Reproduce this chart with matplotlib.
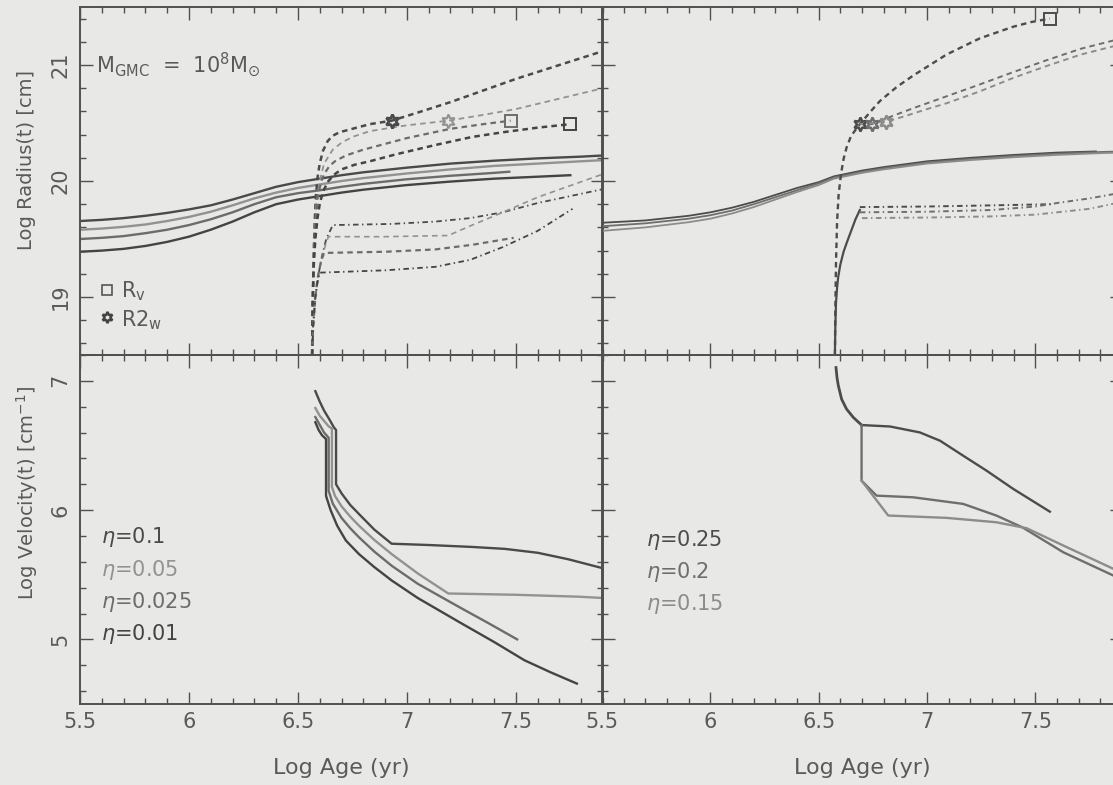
import matplotlib
matplotlib.use("Agg")
import matplotlib.pyplot as plt
from matplotlib.ticker import MultipleLocator

plt.rcParams['font.family'] = ['DejaVu Sans']
plt.rcParams['mathtext.fontset'] = 'dejavusans'
plt.rcParams['lines.scale_dashes'] = False

# ---------------- data ----------------
# Top-left: Log Radius, eta = 0.1, 0.05, 0.025, 0.01
tl_solid_x = [5.5, 5.6, 5.7, 5.8, 5.9, 6.0, 6.1, 6.2, 6.3, 6.4, 6.5, 6.6, 6.7, 6.8,
              6.9, 7.0, 7.2, 7.4, 7.6, 7.8, 7.9]
tl_solid_01 = [19.655, 19.665, 19.68, 19.70, 19.725, 19.755, 19.79, 19.84, 19.895, 19.95,
               19.99, 20.02, 20.05, 20.075, 20.095, 20.115, 20.15, 20.175, 20.195, 20.21, 20.22]
tl_solid_005 = [19.58, 19.59, 19.605, 19.625, 19.655, 19.69, 19.735, 19.79, 19.85, 19.90,
                19.94, 19.97, 20.0, 20.025, 20.045, 20.065, 20.10, 20.13, 20.15, 20.17, 20.18]
tl_solid_0025_x = [5.5, 5.6, 5.7, 5.8, 5.9, 6.0, 6.1, 6.2, 6.3, 6.4, 6.5, 6.6, 6.7, 6.8,
                   6.9, 7.0, 7.2, 7.4, 7.47]
tl_solid_0025 = [19.50, 19.51, 19.525, 19.55, 19.58, 19.62, 19.67, 19.73, 19.80, 19.86,
                 19.895, 19.92, 19.95, 19.975, 19.995, 20.015, 20.045, 20.07, 20.08]
tl_solid_001_x = [5.5, 5.6, 5.7, 5.8, 5.9, 6.0, 6.1, 6.2, 6.3, 6.4, 6.5, 6.6, 6.7, 6.8,
                  6.9, 7.0, 7.2, 7.4, 7.6, 7.75]
tl_solid_001 = [19.39, 19.40, 19.415, 19.44, 19.475, 19.52, 19.58, 19.65, 19.73, 19.80,
                19.84, 19.87, 19.90, 19.925, 19.945, 19.965, 19.995, 20.02, 20.037, 20.05]

tl_dash_01_x = [6.565, 6.568, 6.572, 6.577, 6.583, 6.59, 6.60, 6.615, 6.637, 6.66, 6.69,
                6.75, 6.83, 6.93, 7.05, 7.2, 7.35, 7.5, 7.7, 7.9]
tl_dash_01_y = [18.5, 18.95, 19.35, 19.65, 19.88, 20.03, 20.15, 20.26, 20.345, 20.39, 20.42,
                20.45, 20.49, 20.52, 20.59, 20.68, 20.78, 20.88, 21.0, 21.12]
tl_dash_005_x = [6.565, 6.568, 6.572, 6.578, 6.585, 6.60, 6.62, 6.66, 6.70, 6.75, 6.83,
                 7.0, 7.19, 7.35, 7.5, 7.7, 7.9]
tl_dash_005_y = [18.5, 18.95, 19.3, 19.58, 19.8, 20.0, 20.15, 20.27, 20.33, 20.38, 20.43,
                 20.48, 20.52, 20.57, 20.62, 20.71, 20.80]
tl_dash_0025_x = [6.565, 6.568, 6.572, 6.578, 6.59, 6.605, 6.62, 6.645, 6.67, 6.72, 6.8,
                  6.9, 7.0, 7.1, 7.2, 7.35, 7.476]
tl_dash_0025_y = [18.5, 18.95, 19.3, 19.55, 19.85, 19.98, 20.06, 20.13, 20.17, 20.22, 20.27,
                  20.32, 20.37, 20.41, 20.45, 20.49, 20.52]
tl_dash_001_x = [6.565, 6.568, 6.572, 6.58, 6.59, 6.60, 6.615, 6.64, 6.67, 6.7, 6.76, 6.83,
                 6.95, 7.13, 7.3, 7.44, 7.6, 7.75]
tl_dash_001_y = [18.5, 18.95, 19.25, 19.5, 19.68, 19.8, 19.91, 20.0, 20.06, 20.1, 20.14,
                 20.17, 20.23, 20.31, 20.38, 20.42, 20.46, 20.49]

tl_low_01_x = [6.565, 6.57, 6.58, 6.595, 6.61, 6.63, 6.66, 6.8, 6.93, 7.13, 7.29, 7.44,
               7.6, 7.75, 7.9]
tl_low_01_y = [18.5, 18.75, 19.0, 19.2, 19.35, 19.5, 19.62, 19.625, 19.63, 19.65, 19.68,
               19.73, 19.81, 19.87, 19.93]
tl_low_005_x = [6.565, 6.57, 6.58, 6.595, 6.61, 6.625, 6.64, 6.9, 7.19, 7.3, 7.44, 7.6,
                7.75, 7.9]
tl_low_005_y = [18.5, 18.75, 19.0, 19.2, 19.33, 19.44, 19.52, 19.52, 19.53, 19.62, 19.73,
                19.86, 19.96, 20.06]
tl_low_0025_x = [6.565, 6.57, 6.58, 6.59, 6.605, 6.62, 6.9, 7.13, 7.3, 7.49]
tl_low_0025_y = [18.5, 18.75, 19.0, 19.16, 19.3, 19.38, 19.39, 19.41, 19.45, 19.51]
tl_low_001_x = [6.565, 6.57, 6.58, 6.59, 6.60, 6.75, 6.9, 7.13, 7.29, 7.44, 7.6, 7.76]
tl_low_001_y = [18.5, 18.75, 19.0, 19.13, 19.21, 19.22, 19.23, 19.26, 19.32, 19.43,
                19.57, 19.76]

tl_star_x = [6.93, 7.19]
tl_star_y = [20.52, 20.52]
tl_square_x = [7.476, 7.75]
tl_square_y = [20.52, 20.49]

# Bottom-left: Log Velocity
bl_01_x = [6.58, 6.60, 6.62, 6.645, 6.665, 6.675, 6.675, 6.70, 6.74, 6.78, 6.85, 6.93,
           7.1, 7.3, 7.45, 7.6, 7.74, 7.9]
bl_01_y = [6.92, 6.84, 6.77, 6.70, 6.64, 6.62, 6.20, 6.13, 6.04, 5.97, 5.85, 5.74,
           5.73, 5.715, 5.70, 5.67, 5.62, 5.55]
bl_005_x = [6.58, 6.60, 6.62, 6.64, 6.656, 6.656, 6.67, 6.70, 6.74, 6.78, 6.85, 6.93,
            7.05, 7.19, 7.5, 7.79, 7.9]
bl_005_y = [6.79, 6.73, 6.69, 6.65, 6.63, 6.18, 6.11, 6.03, 5.95, 5.88, 5.77, 5.66,
            5.51, 5.355, 5.345, 5.33, 5.32]
bl_0025_x = [6.58, 6.60, 6.62, 6.641, 6.641, 6.66, 6.70, 6.74, 6.78, 6.85, 6.93, 7.05,
             7.24, 7.38, 7.506]
bl_0025_y = [6.72, 6.66, 6.60, 6.56, 6.15, 6.05, 5.94, 5.86, 5.79, 5.68, 5.57, 5.43,
             5.25, 5.12, 5.00]
bl_001_x = [6.58, 6.595, 6.61, 6.629, 6.629, 6.65, 6.68, 6.72, 6.78, 6.85, 6.93, 7.05,
            7.24, 7.4, 7.54, 7.66, 7.78]
bl_001_y = [6.68, 6.62, 6.58, 6.55, 6.11, 6.00, 5.88, 5.765, 5.66, 5.56, 5.456, 5.32,
            5.134, 4.98, 4.838, 4.745, 4.658]

# Top-right: Log Radius, eta = 0.25, 0.2, 0.15
tr_solid_x = [5.5, 5.7, 5.9, 6.0, 6.1, 6.2, 6.3, 6.4, 6.5, 6.57, 6.7, 6.8, 7.0, 7.2,
              7.4, 7.6, 7.78]
tr_solid_025 = [19.64, 19.66, 19.70, 19.73, 19.77, 19.82, 19.88, 19.94, 19.99, 20.04,
                20.09, 20.12, 20.17, 20.20, 20.225, 20.245, 20.255]
tr_solid_02_x = [5.5, 5.7, 5.9, 6.0, 6.1, 6.2, 6.3, 6.4, 6.5, 6.57, 6.7, 6.8, 7.0, 7.2,
                 7.4, 7.6, 7.8, 7.9]
tr_solid_02 = [19.61, 19.635, 19.675, 19.705, 19.745, 19.80, 19.86, 19.92, 19.98, 20.03,
               20.08, 20.11, 20.16, 20.19, 20.215, 20.235, 20.25, 20.255]
tr_solid_015 = [19.57, 19.60, 19.645, 19.675, 19.72, 19.775, 19.84, 19.905, 19.965, 20.02,
                20.07, 20.10, 20.15, 20.18, 20.205, 20.225, 20.24, 20.245]

tr_dash_025_x = [6.575, 6.577, 6.58, 6.585, 6.592, 6.603, 6.615, 6.629, 6.65, 6.69, 6.74,
                 6.783, 6.86, 6.937, 7.09, 7.244, 7.398, 7.48, 7.567]
tr_dash_025_y = [18.5, 18.9, 19.3, 19.65, 19.88, 20.06, 20.19, 20.29, 20.39, 20.49, 20.60,
                 20.69, 20.81, 20.91, 21.09, 21.23, 21.33, 21.37, 21.40]
tr_dash_02_x = [6.69, 6.745, 6.84, 6.94, 7.09, 7.24, 7.4, 7.55, 7.71, 7.9]
tr_dash_02_y = [20.49, 20.49, 20.56, 20.63, 20.73, 20.83, 20.94, 21.04, 21.14, 21.23]
tr_dash_015_x = [6.69, 6.81, 6.9, 7.0, 7.09, 7.24, 7.4, 7.55, 7.71, 7.9]
tr_dash_015_y = [20.49, 20.51, 20.56, 20.62, 20.67, 20.77, 20.89, 20.99, 21.09, 21.18]

tr_rise_x = [6.575, 6.577, 6.58, 6.585, 6.59, 6.60, 6.615, 6.63, 6.65, 6.67, 6.69]
tr_rise_y = [18.5, 18.75, 18.95, 19.08, 19.17, 19.28, 19.39, 19.47, 19.57, 19.67, 19.75]
tr_low_025_x = [6.69, 7.0, 7.3, 7.58]
tr_low_025_y = [19.775, 19.78, 19.79, 19.80]
tr_low_02_x = [6.69, 7.0, 7.3, 7.5, 7.6, 7.75, 7.9]
tr_low_02_y = [19.73, 19.735, 19.75, 19.78, 19.81, 19.85, 19.90]
tr_low_015_x = [6.70, 7.0, 7.3, 7.5, 7.6, 7.75, 7.9]
tr_low_015_y = [19.68, 19.685, 19.695, 19.71, 19.73, 19.76, 19.82]

tr_star_x = [6.69, 6.745, 6.81]
tr_star_y = [20.49, 20.49, 20.51]
tr_square_x = [7.567]
tr_square_y = [21.40]

# Bottom-right: Log Velocity
br_common_x = [6.580, 6.585, 6.591, 6.606, 6.629, 6.66, 6.698]
br_common_y = [7.103, 7.02, 6.961, 6.858, 6.781, 6.717, 6.658]
br_025_x = [6.698, 6.829, 6.967, 7.06, 7.167, 7.275, 7.398, 7.567]
br_025_y = [6.658, 6.647, 6.601, 6.537, 6.421, 6.305, 6.164, 5.988]
br_02_x = [6.698, 6.698, 6.767, 6.937, 7.167, 7.32, 7.44, 7.629, 7.86, 7.9]
br_02_y = [6.658, 6.228, 6.112, 6.099, 6.048, 5.958, 5.867, 5.674, 5.494, 5.46]
br_015_x = [6.698, 6.821, 7.09, 7.32, 7.46, 7.629, 7.86, 7.9]
br_015_y = [6.228, 5.958, 5.94, 5.906, 5.86, 5.726, 5.546, 5.52]

left_labels = ['$\\eta$=0.1', '$\\eta$=0.05', '$\\eta$=0.025', '$\\eta$=0.01']
right_labels = ['$\\eta$=0.25', '$\\eta$=0.2', '$\\eta$=0.15']
x_ticks = [5.5, 6, 6.5, 7, 7.5]
x_tick_labels = ['5.5', '6', '6.5', '7', '7.5']

# ---------------- styling ----------------
BG = '#e8e8e6'
AX = '#505050'
TXT = '#5a5a5a'
left_cols = ['#4a4a4a', '#929292', '#6c6c6c', '#444444']
right_cols = ['#4c4c4c', '#6e6e6e', '#8c8c8c']

W, H = 1113, 785
fig = plt.figure(figsize=(W / 100, H / 100), dpi=100, facecolor=BG)

def px_axes(x0, y0, x1, y1):
    return fig.add_axes([x0 / W, 1 - y1 / H, (x1 - x0) / W, (y1 - y0) / H])

ax_tl = px_axes(80, 7, 603, 355)
ax_bl = px_axes(80, 355, 603, 704)
ax_tr = px_axes(602, 7, 1122, 355)
ax_br = px_axes(602, 355, 1122, 704)

for ax in (ax_tl, ax_bl, ax_tr, ax_br):
    ax.set_facecolor('none')
    ax.set_xlim(5.5, 7.9)
    ax.xaxis.set_major_locator(MultipleLocator(0.5))
    ax.xaxis.set_minor_locator(MultipleLocator(0.1))
    ax.yaxis.set_major_locator(MultipleLocator(1))
    ax.yaxis.set_minor_locator(MultipleLocator(0.2))
    ax.tick_params(which='both', direction='in', top=True, right=True,
                   colors=AX, labelcolor=TXT, labelsize=15)
    ax.tick_params(which='major', length=9, width=1.0)
    ax.tick_params(which='minor', length=4, width=1.0)
    for s in ax.spines.values():
        s.set_color(AX)
        s.set_linewidth(1.4)

for ax in (ax_tl, ax_tr):
    ax.set_ylim(18.5, 21.5)
    ax.tick_params(labelbottom=False)
for ax in (ax_bl, ax_br):
    ax.set_ylim(4.5, 7.2)
    ax.set_xticks(x_ticks)
    ax.set_xticklabels(x_tick_labels)
    ax.tick_params(axis='x', pad=6)
for ax in (ax_tr, ax_br):
    ax.tick_params(labelleft=False)
for ax in (ax_tl, ax_bl):
    ax.tick_params(axis='y', labelrotation=90, pad=7)
    for lab in ax.get_yticklabels():
        lab.set_va('center')

LW = 1.7
DASH = (0, (4, 3))
DASHDOT = (0, (4, 2.5, 1, 2.5))
STAR = (6, 1, 0)

# top-left
for xs, ys, c in zip([tl_solid_x, tl_solid_x, tl_solid_0025_x, tl_solid_001_x],
                     [tl_solid_01, tl_solid_005, tl_solid_0025, tl_solid_001], left_cols):
    ax_tl.plot(xs, ys, color=c, lw=LW)
ax_tl.plot(tl_dash_01_x, tl_dash_01_y, color=left_cols[0], lw=1.8, ls=DASH)
ax_tl.plot(tl_dash_005_x, tl_dash_005_y, color=left_cols[1], lw=1.3, ls=DASH)
ax_tl.plot(tl_dash_0025_x, tl_dash_0025_y, color=left_cols[2], lw=1.6, ls=DASH)
ax_tl.plot(tl_dash_001_x, tl_dash_001_y, color=left_cols[3], lw=1.8, ls=DASH)
ax_tl.plot(tl_low_01_x, tl_low_01_y, color=left_cols[0], lw=1.3, ls=DASHDOT)
ax_tl.plot(tl_low_005_x, tl_low_005_y, color=left_cols[1], lw=1.2, ls=DASH)
ax_tl.plot(tl_low_0025_x, tl_low_0025_y, color=left_cols[2], lw=1.6, ls=DASH)
ax_tl.plot(tl_low_001_x, tl_low_001_y, color=left_cols[3], lw=1.3, ls=DASHDOT)
ax_tl.plot(tl_star_x[:1], tl_star_y[:1], ls='none', marker=STAR, ms=10,
           mfc='none', mec=left_cols[0], mew=2.0)
ax_tl.plot(tl_star_x[1:], tl_star_y[1:], ls='none', marker=STAR, ms=10,
           mfc='none', mec=left_cols[1], mew=1.5)
ax_tl.plot(tl_square_x[:1], tl_square_y[:1], ls='none', marker='s', ms=8,
           mfc='none', mec=left_cols[2], mew=1.4)
ax_tl.plot(tl_square_x[1:], tl_square_y[1:], ls='none', marker='s', ms=8,
           mfc='none', mec=left_cols[3], mew=1.4)

# top-right
for xs, ys, c in zip([tr_solid_x, tr_solid_02_x, tr_solid_02_x],
                     [tr_solid_025, tr_solid_02, tr_solid_015], right_cols):
    ax_tr.plot(xs, ys, color=c, lw=1.3)
ax_tr.plot(tr_dash_025_x, tr_dash_025_y, color=right_cols[0], lw=1.7, ls=DASH)
ax_tr.plot(tr_dash_02_x, tr_dash_02_y, color=right_cols[1], lw=1.4, ls=DASH)
ax_tr.plot(tr_dash_015_x, tr_dash_015_y, color=right_cols[2], lw=1.4, ls=DASH)
ax_tr.plot(tr_rise_x, tr_rise_y, color=right_cols[0], lw=1.6)
ax_tr.plot(tr_low_025_x, tr_low_025_y, color=right_cols[0], lw=1.4, ls=DASHDOT)
ax_tr.plot(tr_low_02_x, tr_low_02_y, color=right_cols[1], lw=1.4, ls=DASHDOT)
ax_tr.plot(tr_low_015_x, tr_low_015_y, color=right_cols[2], lw=1.4, ls=DASHDOT)
for xs, ys, c in zip(tr_star_x, tr_star_y, right_cols):
    ax_tr.plot([xs], [ys], ls='none', marker=STAR, ms=10,
               mfc='none', mec=c, mew=1.8)
ax_tr.plot(tr_square_x, tr_square_y, ls='none', marker='s', ms=8,
           mfc='none', mec=right_cols[0], mew=1.4)

# bottom-left
for xs, ys, c in zip([bl_01_x, bl_005_x, bl_0025_x, bl_001_x],
                     [bl_01_y, bl_005_y, bl_0025_y, bl_001_y], left_cols):
    ax_bl.plot(xs, ys, color=c, lw=LW)

# bottom-right
ax_br.plot(br_common_x, br_common_y, color=right_cols[0], lw=2.0)
for xs, ys, c in zip([br_025_x, br_02_x, br_015_x],
                     [br_025_y, br_02_y, br_015_y], right_cols):
    ax_br.plot(xs, ys, color=c, lw=LW)

# ---------------- text ----------------
def ftext(xp, yp, s, **kw):
    fig.text(xp / W, 1 - yp / H, s, **kw)

ftext(96, 65, 'M$_{\\mathregular{GMC}}$  =  10$^{8}$M$_{\\odot}$', fontsize=15,
      color=TXT, va='center', ha='left')
ax_tl.plot([5.625], [19.06], ls='none', marker='s',
           ms=7, mfc='none', mec='#555555', mew=1.2)
ax_tl.plot([5.625], [18.825], ls='none', marker=STAR, ms=8,
           mfc='none', mec='#444444', mew=1.8)
ftext(121, 291, 'R$_{\\mathregular{v}}$', fontsize=15, color=TXT, va='center')
ftext(121, 320, 'R2$_{\\mathregular{w}}$', fontsize=15, color=TXT, va='center')

for i, (s, c) in enumerate(zip(left_labels, left_cols)):
    ftext(101, 537 + 32.5 * i, s, fontsize=15, color=c, va='center')
for i, (s, c) in enumerate(zip(right_labels, right_cols)):
    ftext(646, 540 + 32 * i, s, fontsize=15, color=c, va='center')

ftext(27, 160, 'Log Radius(t) [cm]', rotation=90, fontsize=14,
      color=TXT, va='center', ha='center')
ftext(27, 493, 'Log Velocity(t) [cm$^{-1}$]', rotation=90, fontsize=14,
      color=TXT, va='center', ha='center')
ftext(341, 768, 'Log Age (yr)', fontsize=16, color=TXT, ha='center', va='center')
ftext(862, 768, 'Log Age (yr)', fontsize=16, color=TXT, ha='center', va='center')

fig.savefig('out.png', dpi=100, facecolor=BG)
